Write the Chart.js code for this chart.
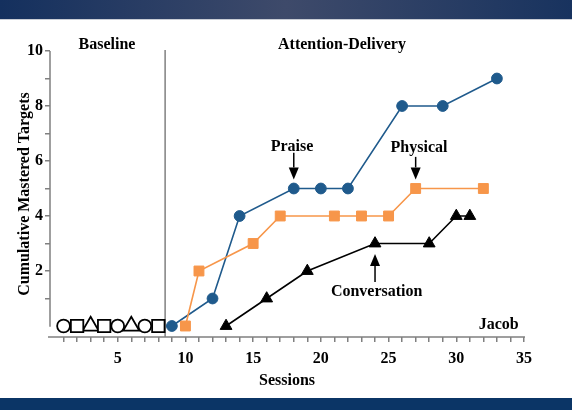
<!DOCTYPE html>
<html><head><meta charset="utf-8">
<script src="https://cdn.jsdelivr.net/npm/chart.js@4.4.1/dist/chart.umd.min.js"></script>
<style>
html,body{margin:0;padding:0;background:#fff;}
#wrap{position:relative;width:572px;height:410px;overflow:hidden;background:#fff;}
#top{position:absolute;left:0;top:0;width:572px;height:19px;background:linear-gradient(to right,#14305e 0%,#3e4a6a 50%,#18335f 100%);border-bottom:1px solid #c9cdd5;}
#bot{position:absolute;left:0;top:398px;width:572px;height:12px;background:#0b3566;}
canvas{position:absolute;left:0;top:0;}
</style></head><body>
<div id="wrap"><div id="top"></div><div id="bot"></div><canvas id="c" width="572" height="410"></canvas></div>
<script>
// ---- data ----
const praiseSessions = [9, 12, 14, 18, 20, 22, 26, 29, 33];
const praiseValues   = [0, 1, 4, 5, 5, 5, 8, 8, 9];
const physicalSessions = [10, 11, 15, 17, 21, 23, 25, 27, 32];
const physicalValues   = [0, 2, 3, 4, 4, 4, 4, 5, 5];
const conversationSessions = [13, 16, 19, 24, 28, 30, 31];
const conversationValues   = [0, 1, 2, 3, 3, 4, 4];
const baselinePraiseSessions = [1, 5, 7];
const baselinePraiseValues   = [0, 0, 0];
const baselinePhysicalSessions = [2, 4, 8];
const baselinePhysicalValues   = [0, 0, 0];
const baselineConversationSessions = [3, 6];
const baselineConversationValues   = [0, 0];
const xTickLabels = [5, 10, 15, 20, 25, 30, 35];
const yTickLabels = [2, 4, 6, 8, 10];
const phaseNames = ['Baseline', 'Attention-Delivery'];
const phaseChangeSession = 8.5;
const participant = 'Jacob';

// ---- styling / annotations ----
const FONT = "'Liberation Serif','Times New Roman',serif";
const BLUE = '#1f5a8c', ORANGE = '#f7964a', BLACK = '#000000', AXIS = '#808080';
const pts = (xs, ys) => xs.map((x, i) => ({x: x, y: ys[i]}));
const notes = [
  {text: phaseNames[0], x: 4.21, y: 10.22},
  {text: phaseNames[1], x: 21.56, y: 10.22},
  {text: 'Praise', x: 17.87, y: 6.52},
  {text: 'Physical', x: 27.25, y: 6.46},
  {text: 'Conversation', x: 24.12, y: 1.24},
  {text: participant, x: 33.13, y: 0.04}
];
const arrows = [
  {x: 18, from: 6.3, to: 5.33},
  {x: 27, from: 6.15, to: 5.33},
  {x: 24, from: 1.6, to: 2.62}
];

const deco = {
  id: 'deco',
  beforeDatasetsDraw(chart) {
    const {ctx, scales: {x: xs, y: ys}} = chart;
    ctx.save();
    ctx.strokeStyle = AXIS; ctx.lineWidth = 1.5;
    ctx.beginPath();
    ctx.moveTo(xs.left, ys.getPixelForValue(10));
    ctx.lineTo(xs.left, ys.getPixelForValue(-0.03));
    ctx.moveTo(xs.left - 2, ys.bottom);
    ctx.lineTo(xs.right + 1, ys.bottom);
    const px = xs.getPixelForValue(phaseChangeSession);
    ctx.moveTo(px, ys.top - 1);
    ctx.lineTo(px, ys.bottom);
    ctx.stroke();
    ctx.restore();
  },
  afterDatasetsDraw(chart) {
    const {ctx, scales: {x: xs, y: ys}} = chart;
    ctx.save();
    ctx.fillStyle = BLACK; ctx.strokeStyle = BLACK;
    ctx.font = "bold 16px " + FONT;
    ctx.textAlign = 'center'; ctx.textBaseline = 'middle';
    notes.forEach(n => ctx.fillText(n.text, xs.getPixelForValue(n.x), ys.getPixelForValue(n.y)));
    arrows.forEach(a => {
      const x = xs.getPixelForValue(a.x);
      const y0 = ys.getPixelForValue(a.from), y1 = ys.getPixelForValue(a.to);
      const dir = y1 > y0 ? 1 : -1, hl = 12, hw = 5;
      ctx.lineWidth = 1.5;
      ctx.beginPath(); ctx.moveTo(x, y0); ctx.lineTo(x, y1 - dir * hl); ctx.stroke();
      ctx.beginPath(); ctx.moveTo(x, y1); ctx.lineTo(x - hw, y1 - dir * hl); ctx.lineTo(x + hw, y1 - dir * hl); ctx.closePath(); ctx.fill();
    });
    ctx.restore();
  }
};

Chart.defaults.font.family = FONT;
Chart.defaults.font.size = 16;
Chart.defaults.font.weight = 'bold';
Chart.defaults.color = BLACK;

const open = (data, style, r) => ({
  data: data, showLine: false, pointStyle: style, pointRadius: r, pointHoverRadius: r,
  pointBackgroundColor: '#ffffff', pointBorderColor: BLACK, pointBorderWidth: 1.8, clip: false
});
const series = (data, color, style, r) => ({
  data: data, showLine: true, borderColor: color, borderWidth: 1.6, pointStyle: style,
  pointRadius: r, pointHoverRadius: r, pointBackgroundColor: color, pointBorderColor: color,
  pointBorderWidth: 1, clip: false
});

new Chart(document.getElementById('c'), {
  type: 'scatter',
  data: {
    datasets: [
      open(pts(baselinePraiseSessions, baselinePraiseValues), 'circle', 6.4),
      open(pts(baselinePhysicalSessions, baselinePhysicalValues), 'rect', 8.8),
      open(pts(baselineConversationSessions, baselineConversationValues), 'triangle', 9.2),
      series(pts(conversationSessions, conversationValues), BLACK, 'triangle', 6.8),
      series(pts(physicalSessions, physicalValues), ORANGE, 'rect', 7),
      series(pts(praiseSessions, praiseValues), BLUE, 'circle', 5.4)
    ]
  },
  options: {
    responsive: false, animation: false,
    layout: {padding: {left: 0, top: 51, right: 48, bottom: 0}},
    plugins: {legend: {display: false}, tooltip: {enabled: false}},
    scales: {
      x: {
        type: 'linear', min: 0, max: 35,
        afterBuildTicks: s => { s.ticks = Array.from({length: 35}, (_, i) => ({value: i + 1})); },
        afterFit: s => { s.height = 73; },
        ticks: {autoSkip: false, maxRotation: 0, padding: 7,
          callback: v => xTickLabels.includes(v) ? String(v) : ''},
        grid: {drawOnChartArea: false, drawTicks: true, tickLength: 5, color: AXIS, lineWidth: 1.5},
        border: {display: false},
        title: {display: true, text: 'Sessions', padding: {top: 0, bottom: 20}}
      },
      y: {
        type: 'linear', min: -0.4, max: 10,
        afterBuildTicks: s => { s.ticks = Array.from({length: 10}, (_, i) => ({value: i + 1})); },
        afterFit: s => { s.width = 50; },
        ticks: {autoSkip: false, padding: 2,
          callback: v => yTickLabels.includes(v) ? String(v) : ''},
        grid: {drawOnChartArea: false, drawTicks: true, tickLength: 5, color: AXIS, lineWidth: 1.5},
        border: {display: false},
        title: {display: true, text: 'Cumulative Mastered Targets', padding: {top: 15, bottom: 0}}
      }
    }
  },
  plugins: [deco]
});
</script>
</body></html>
